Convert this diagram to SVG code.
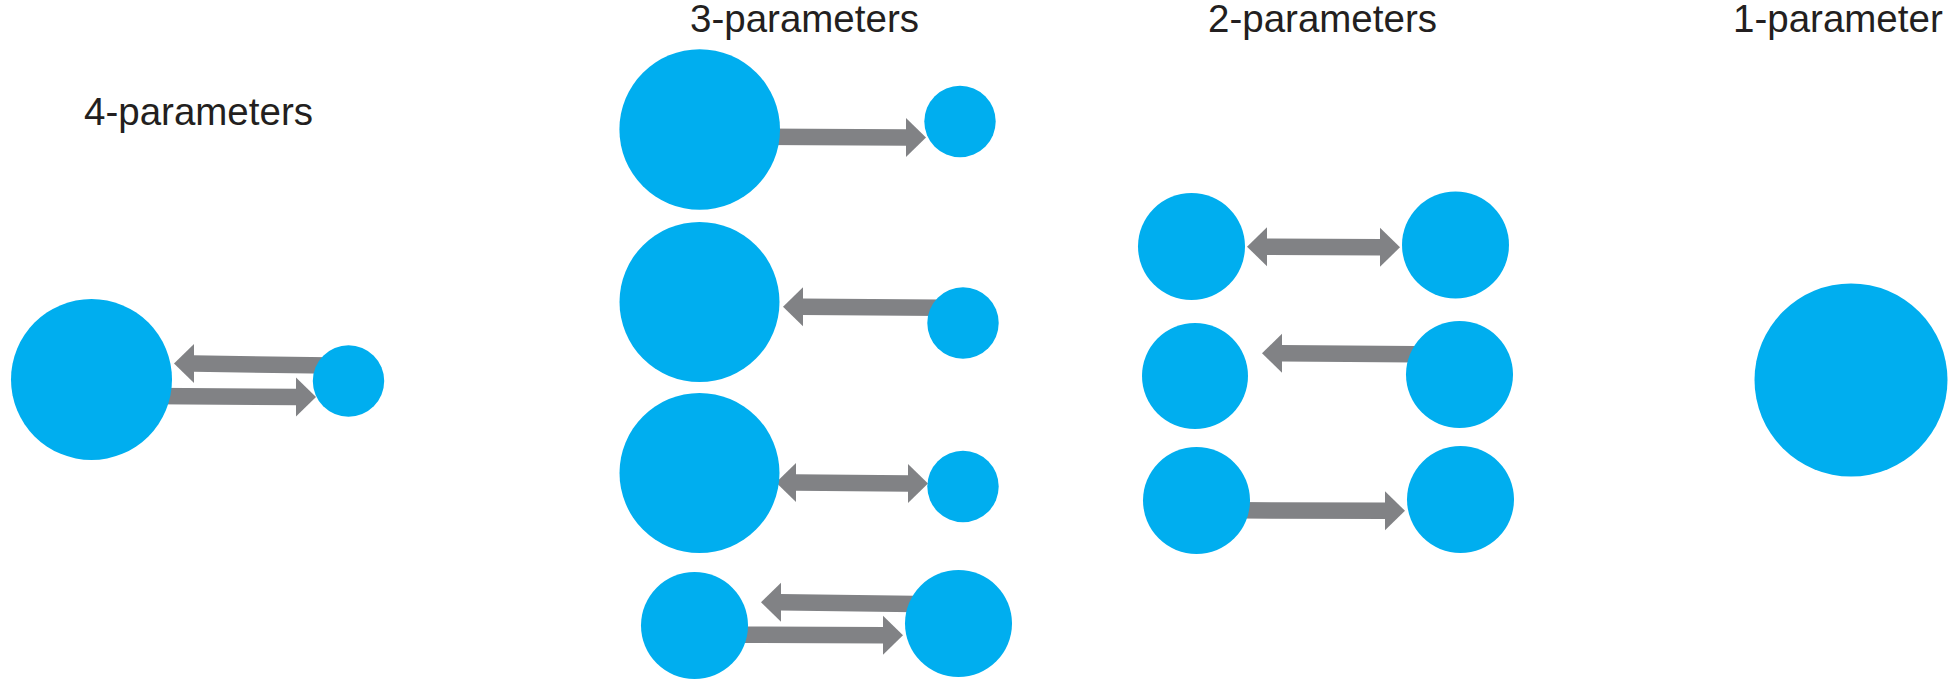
<svg xmlns="http://www.w3.org/2000/svg" width="1955" height="686" viewBox="0 0 1955 686">
  <style>
    .title { font-family: "Liberation Sans", Arial, Helvetica, sans-serif; font-size: 38.5px; fill: #231f20; }
    .node { fill: #00aeef; }
    .link { stroke: #818285; stroke-width: 16.5; fill: none; }
    .tip { fill: #818285; }
  </style>
  <defs>
    <!-- arrowhead pointing right, base on x=0, centred on y=0 -->
    <path id="tip-r" class="tip" d="M0,-19.5 L20,0 L0,19.5 Z"/>
    <!-- arrowhead pointing left, base on x=0, centred on y=0 -->
    <path id="tip-l" class="tip" d="M0,-19.5 L-20,0 L0,19.5 Z"/>
  </defs>

  <!-- column headings -->
  <text class="title" x="84" y="125">4-parameters</text>
  <text class="title" x="690" y="32">3-parameters</text>
  <text class="title" x="1208" y="32">2-parameters</text>
  <text class="title" x="1733" y="32">1-parameter</text>

  <!-- arrows (drawn beneath the circles so their tails tuck under) -->
  <g id="connectors">
    <!-- 4 parameters -->
    <line class="link" x1="330" y1="365.5" x2="193" y2="363.5"/>
    <use href="#tip-l" x="194" y="363.5"/>
    <line class="link" x1="150" y1="396" x2="297" y2="397"/>
    <use href="#tip-r" x="296" y="397"/>
    <!-- 3 parameters -->
    <line class="link" x1="760" y1="136.8" x2="907" y2="137.5"/>
    <use href="#tip-r" x="906" y="137.5"/>
    <line class="link" x1="940" y1="307.7" x2="802" y2="306.7"/>
    <use href="#tip-l" x="803" y="306.7"/>
    <line class="link" x1="795" y1="482.5" x2="909" y2="483.5"/>
    <use href="#tip-l" x="796" y="482.5"/>
    <use href="#tip-r" x="908" y="483.5"/>
    <line class="link" x1="915" y1="604" x2="780" y2="602.3"/>
    <use href="#tip-l" x="781" y="602.3"/>
    <line class="link" x1="740" y1="634.7" x2="884" y2="635.3"/>
    <use href="#tip-r" x="883" y="635.3"/>
    <!-- 2 parameters -->
    <line class="link" x1="1266" y1="246.7" x2="1381" y2="247.3"/>
    <use href="#tip-l" x="1267" y="246.7"/>
    <use href="#tip-r" x="1380" y="247.3"/>
    <line class="link" x1="1415" y1="354.3" x2="1281" y2="353.3"/>
    <use href="#tip-l" x="1282" y="353.3"/>
    <line class="link" x1="1240" y1="510.3" x2="1386" y2="510.8"/>
    <use href="#tip-r" x="1385" y="510.8"/>
  </g>

  <!-- 4 parameters -->
  <g id="p4-big"><circle class="node" cx="91.5" cy="379.5" r="80.5"/></g>
  <g id="p4-small"><circle class="node" cx="348.5" cy="381" r="35.7"/></g>

  <!-- 3 parameters -->
  <g id="p3-big-1"><circle class="node" cx="699.7" cy="129.5" r="80.3"/></g>
  <g id="p3-small-1"><circle class="node" cx="960" cy="121.5" r="35.7"/></g>
  <g id="p3-big-2"><circle class="node" cx="699.5" cy="302" r="80"/></g>
  <g id="p3-small-2"><circle class="node" cx="963" cy="323" r="35.7"/></g>
  <g id="p3-big-3"><circle class="node" cx="699.5" cy="473" r="80"/></g>
  <g id="p3-small-3"><circle class="node" cx="963" cy="486.5" r="35.7"/></g>
  <g id="p3-left-4"><circle class="node" cx="694.5" cy="625.5" r="53.5"/></g>
  <g id="p3-right-4"><circle class="node" cx="958.5" cy="623.5" r="53.5"/></g>

  <!-- 2 parameters -->
  <g id="p2-left-1"><circle class="node" cx="1191.5" cy="246.5" r="53.5"/></g>
  <g id="p2-right-1"><circle class="node" cx="1455.5" cy="245" r="53.5"/></g>
  <g id="p2-left-2"><circle class="node" cx="1195" cy="376" r="53"/></g>
  <g id="p2-right-2"><circle class="node" cx="1459.5" cy="374.5" r="53.5"/></g>
  <g id="p2-left-3"><circle class="node" cx="1196.5" cy="500.5" r="53.5"/></g>
  <g id="p2-right-3"><circle class="node" cx="1460.5" cy="499.5" r="53.5"/></g>

  <!-- 1 parameter -->
  <g id="p1"><circle class="node" cx="1851" cy="380" r="96.5"/></g>
</svg>
